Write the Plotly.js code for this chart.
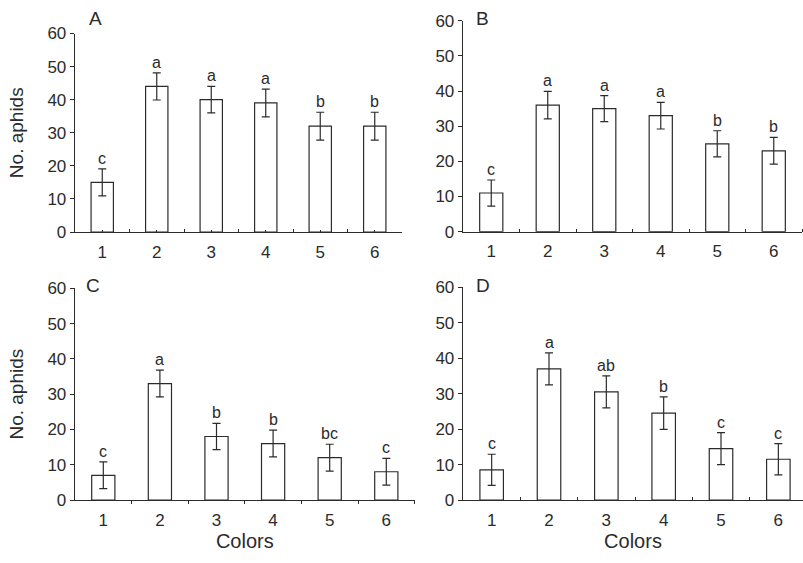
<!DOCTYPE html>
<html>
<head>
<meta charset="utf-8">
<script src="https://cdn.plot.ly/plotly-3.0.1.min.js"></script>
<style>html,body{margin:0;padding:0;background:#fff;}#chart{width:803px;height:563px;}</style>
</head>
<body>
<div id="chart"></div>
<script>
// ---- data ----
const colors = [1, 2, 3, 4, 5, 6];
const colorLabels = ["1", "2", "3", "4", "5", "6"];
const panelNames = ["A", "B", "C", "D"];

const meanA = [15, 44, 40, 39, 32, 32];
const errA  = [4.1, 4.1, 4.0, 4.2, 4.2, 4.2];
const lettersA = ["c", "a", "a", "a", "b", "b"];

const meanB = [11, 36, 35, 33, 25, 23];
const errB  = [3.7, 3.9, 3.7, 3.8, 3.7, 3.8];
const lettersB = ["c", "a", "a", "a", "b", "b"];

const meanC = [7, 33, 18, 16, 12, 8];
const errC  = [3.8, 3.8, 3.7, 3.8, 3.8, 3.8];
const lettersC = ["c", "a", "b", "b", "bc", "c"];

const meanD = [8.5, 37, 30.5, 24.5, 14.5, 11.5];
const errD  = [4.4, 4.5, 4.5, 4.6, 4.5, 4.4];
const lettersD = ["c", "a", "ab", "b", "c", "c"];

const yTitle = "No. aphids";
const xTitle = "Colors";
const yTicks = [0, 10, 20, 30, 40, 50, 60];

// ---- styling ----
const W = 803, H = 563;
const FONT = "Liberation Sans, Arial, sans-serif";
const INK = "#2b2b2b";
const px = v => v / W;
const py = v => 1 - v / H;

const panels = [
  {mean: meanA, err: errA, letters: lettersA, xa: "x",  ya: "y",  xd: [75, 402], yd: [232, 33.5], xr: [0.5, 6.5], lab: [95, 19], ytitle: true,  xtitle: false, xticks: "inside"},
  {mean: meanB, err: errB, letters: lettersB, xa: "x2", ya: "y2", xd: [463, 802], yd: [231.7, 20.7], xr: [0.5, 6.5], lab: [483, 18.5], ytitle: false, xtitle: false, xticks: "inside"},
  {mean: meanC, err: errC, letters: lettersC, xa: "x3", ya: "y3", xd: [75, 414.6], yd: [500, 288.3], xr: [0.5, 6.5], lab: [93, 285], ytitle: true,  xtitle: true, xticks: "outside"},
  {mean: meanD, err: errD, letters: lettersD, xa: "x4", ya: "y4", xd: [463, 803], yd: [500, 287.3], xr: [0.5, 6.43], lab: [483, 285], ytitle: false, xtitle: true, xticks: "inside"}
];

const traces = [];
const annotations = [];
const layout = {
  width: W, height: H,
  margin: {l: 0, r: 0, t: 0, b: 0},
  paper_bgcolor: "#fff", plot_bgcolor: "#fff",
  showlegend: false,
  font: {family: FONT, color: INK, size: 16},
  annotations: annotations
};

panels.forEach((p, i) => {
  traces.push({
    type: "bar",
    x: colors, y: p.mean,
    xaxis: p.xa, yaxis: p.ya,
    width: 0.41,
    marker: {color: "#ffffff", line: {color: INK, width: 1.2}},
    error_y: {type: "data", array: p.err, visible: true, color: INK, thickness: 1.2, width: 4},
    hoverinfo: "skip"
  });
  p.letters.forEach((t, k) => {
    annotations.push({
      xref: p.xa, yref: p.ya,
      x: colors[k], y: p.mean[k] + p.err[k],
      text: t, showarrow: false,
      xanchor: "center", yanchor: "bottom", yshift: 0,
      font: {family: FONT, size: 16, color: INK}
    });
  });
  annotations.push({
    xref: "paper", yref: "paper",
    x: px(p.lab[0]), y: py(p.lab[1]),
    text: panelNames[i], showarrow: false,
    xanchor: "center", yanchor: "middle",
    font: {family: FONT, size: 19, color: INK}
  });
  const xk = i === 0 ? "xaxis" : "xaxis" + (i + 1);
  const yk = i === 0 ? "yaxis" : "yaxis" + (i + 1);
  layout[xk] = {
    domain: [px(p.xd[0]), px(p.xd[1])],
    anchor: p.ya,
    range: p.xr,
    tickmode: "array", tickvals: colors, ticktext: colorLabels,
    ticks: i === 0 ? "inside" : "", ticklen: 2, tickcolor: INK,
    minor: {tickmode: "array", tickvals: [1.5, 2.5, 3.5, 4.5, 5.5, 6.5], ticks: p.xticks, ticklen: 3, tickcolor: INK, tickwidth: 1, showgrid: false},
    showline: true, linecolor: INK, linewidth: 1.3,
    showgrid: false, zeroline: false,
    tickfont: {family: FONT, size: 17, color: INK},
    ticklabelstandoff: 4,
    fixedrange: true,
    title: p.xtitle ? {text: xTitle, font: {family: FONT, size: 20, color: INK}, standoff: 4} : {text: ""}
  };
  layout[yk] = {
    domain: [py(p.yd[0]), py(p.yd[1])],
    anchor: p.xa,
    range: [0, 60],
    tickmode: "array", tickvals: yTicks,
    ticks: "outside", ticklen: 4, tickcolor: INK,
    showline: true, linecolor: INK, linewidth: 1.3,
    showgrid: false, zeroline: false,
    tickfont: {family: FONT, size: 17, color: INK},
    fixedrange: true,
    title: p.ytitle ? {text: yTitle, font: {family: FONT, size: 19, color: INK}, standoff: 18} : {text: ""}
  };
});

Plotly.newPlot("chart", traces, layout, {staticPlot: true, displayModeBar: false});
</script>
</body>
</html>
